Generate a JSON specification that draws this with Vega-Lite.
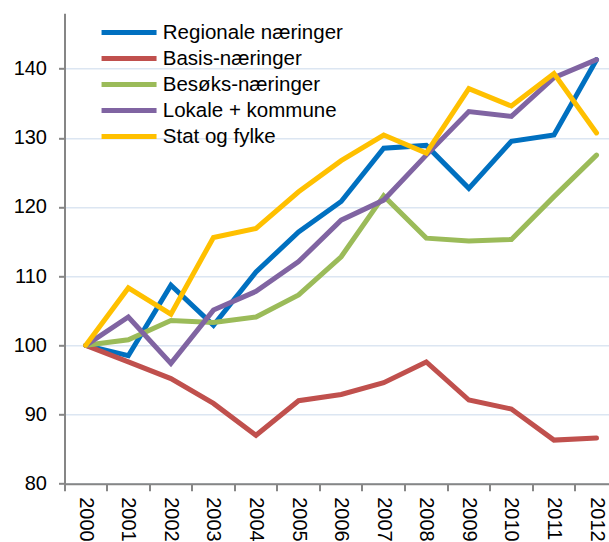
{
  "$schema": "https://vega.github.io/schema/vega-lite/v6.json",
  "autosize": {"type": "none"},
  "width": 544.5,
  "height": 470.4,
  "padding": {"left": 64.5, "top": 13.3, "right": 0, "bottom": 58.3},
  "background": "white",
  "config": {"view": {"stroke": null}, "font": "Liberation Sans"},
  "data": {"values": [
    {"year": "2000", "series": "Regionale næringer", "value": 100},
    {"year": "2001", "series": "Regionale næringer", "value": 98.5},
    {"year": "2002", "series": "Regionale næringer", "value": 108.7},
    {"year": "2003", "series": "Regionale næringer", "value": 102.9},
    {"year": "2004", "series": "Regionale næringer", "value": 110.6},
    {"year": "2005", "series": "Regionale næringer", "value": 116.4},
    {"year": "2006", "series": "Regionale næringer", "value": 120.8},
    {"year": "2007", "series": "Regionale næringer", "value": 128.5},
    {"year": "2008", "series": "Regionale næringer", "value": 128.9},
    {"year": "2009", "series": "Regionale næringer", "value": 122.7},
    {"year": "2010", "series": "Regionale næringer", "value": 129.5},
    {"year": "2011", "series": "Regionale næringer", "value": 130.4},
    {"year": "2012", "series": "Regionale næringer", "value": 141.3},
    {"year": "2000", "series": "Basis-næringer", "value": 100},
    {"year": "2001", "series": "Basis-næringer", "value": 97.6},
    {"year": "2002", "series": "Basis-næringer", "value": 95.2},
    {"year": "2003", "series": "Basis-næringer", "value": 91.6},
    {"year": "2004", "series": "Basis-næringer", "value": 87.0},
    {"year": "2005", "series": "Basis-næringer", "value": 92.0},
    {"year": "2006", "series": "Basis-næringer", "value": 92.9},
    {"year": "2007", "series": "Basis-næringer", "value": 94.6},
    {"year": "2008", "series": "Basis-næringer", "value": 97.6},
    {"year": "2009", "series": "Basis-næringer", "value": 92.1},
    {"year": "2010", "series": "Basis-næringer", "value": 90.8},
    {"year": "2011", "series": "Basis-næringer", "value": 86.3},
    {"year": "2012", "series": "Basis-næringer", "value": 86.6},
    {"year": "2000", "series": "Besøks-næringer", "value": 100},
    {"year": "2001", "series": "Besøks-næringer", "value": 100.8},
    {"year": "2002", "series": "Besøks-næringer", "value": 103.6},
    {"year": "2003", "series": "Besøks-næringer", "value": 103.3},
    {"year": "2004", "series": "Besøks-næringer", "value": 104.1},
    {"year": "2005", "series": "Besøks-næringer", "value": 107.3},
    {"year": "2006", "series": "Besøks-næringer", "value": 112.8},
    {"year": "2007", "series": "Besøks-næringer", "value": 121.6},
    {"year": "2008", "series": "Besøks-næringer", "value": 115.5},
    {"year": "2009", "series": "Besøks-næringer", "value": 115.1},
    {"year": "2010", "series": "Besøks-næringer", "value": 115.3},
    {"year": "2011", "series": "Besøks-næringer", "value": 121.5},
    {"year": "2012", "series": "Besøks-næringer", "value": 127.5},
    {"year": "2000", "series": "Lokale + kommune", "value": 100},
    {"year": "2001", "series": "Lokale + kommune", "value": 104.1},
    {"year": "2002", "series": "Lokale + kommune", "value": 97.4},
    {"year": "2003", "series": "Lokale + kommune", "value": 105.1},
    {"year": "2004", "series": "Lokale + kommune", "value": 107.8},
    {"year": "2005", "series": "Lokale + kommune", "value": 112.1},
    {"year": "2006", "series": "Lokale + kommune", "value": 118.1},
    {"year": "2007", "series": "Lokale + kommune", "value": 121.0},
    {"year": "2008", "series": "Lokale + kommune", "value": 127.5},
    {"year": "2009", "series": "Lokale + kommune", "value": 133.8},
    {"year": "2010", "series": "Lokale + kommune", "value": 133.1},
    {"year": "2011", "series": "Lokale + kommune", "value": 138.7},
    {"year": "2012", "series": "Lokale + kommune", "value": 141.3},
    {"year": "2000", "series": "Stat og fylke", "value": 100},
    {"year": "2001", "series": "Stat og fylke", "value": 108.3},
    {"year": "2002", "series": "Stat og fylke", "value": 104.5},
    {"year": "2003", "series": "Stat og fylke", "value": 115.6},
    {"year": "2004", "series": "Stat og fylke", "value": 116.9},
    {"year": "2005", "series": "Stat og fylke", "value": 122.2},
    {"year": "2006", "series": "Stat og fylke", "value": 126.7},
    {"year": "2007", "series": "Stat og fylke", "value": 130.4},
    {"year": "2008", "series": "Stat og fylke", "value": 127.8},
    {"year": "2009", "series": "Stat og fylke", "value": 137.1},
    {"year": "2010", "series": "Stat og fylke", "value": 134.6},
    {"year": "2011", "series": "Stat og fylke", "value": 139.3},
    {"year": "2012", "series": "Stat og fylke", "value": 130.7}
  ]},
  "mark": {"type": "line", "strokeWidth": 5, "strokeCap": "round"},
  "encoding": {
    "x": {
      "field": "year", "type": "ordinal", "bandPosition": 0.5,
      "scale": {"type": "band", "paddingInner": 0, "paddingOuter": 0, "range": [0, 553.3]},
      "axis": {
        "title": null, "labelAngle": 90, "labelAlign": "left", "labelBaseline": "middle",
        "bandPosition": 0, "tickSize": 7, "labelPadding": 6, "labelFontSize": 20,
        "labelColor": "#000000", "labelFont": "Liberation Sans",
        "domainColor": "#868686", "domainWidth": 2, "tickColor": "#868686", "tickWidth": 2,
        "grid": false, "labelOverlap": false, "labelBound": false, "labelFlush": false
      }
    },
    "y": {
      "field": "value", "type": "quantitative",
      "scale": {"domain": [80, 148], "nice": false, "zero": false},
      "axis": {
        "title": null, "values": [80, 90, 100, 110, 120, 130, 140],
        "tickSize": 6, "labelPadding": 12, "labelFontSize": 20,
        "labelColor": "#000000", "labelFont": "Liberation Sans",
        "domainColor": "#868686", "domainWidth": 2, "tickColor": "#868686", "tickWidth": 2,
        "grid": true, "gridColor": "#DCE6F2", "gridWidth": 1.5,
        "labelOverlap": false, "labelFlush": false
      }
    },
    "color": {
      "field": "series", "type": "nominal",
      "scale": {
        "domain": ["Regionale næringer", "Basis-næringer", "Besøks-næringer", "Lokale + kommune", "Stat og fylke"],
        "range": ["#0070C0", "#C0504D", "#9BBB59", "#8064A2", "#FFC000"]
      },
      "legend": {
        "orient": "none", "legendX": 54.3, "legendY": 9, "padding": 0, "title": null,
        "symbolType": "M-5,0H5", "symbolSize": 121, "symbolStrokeWidth": 5,
        "labelFontSize": 20.5, "labelFont": "Liberation Sans", "labelColor": "#000000",
        "labelOffset": 23.5, "rowPadding": 5, "labelLimit": 400
      }
    }
  }
}
